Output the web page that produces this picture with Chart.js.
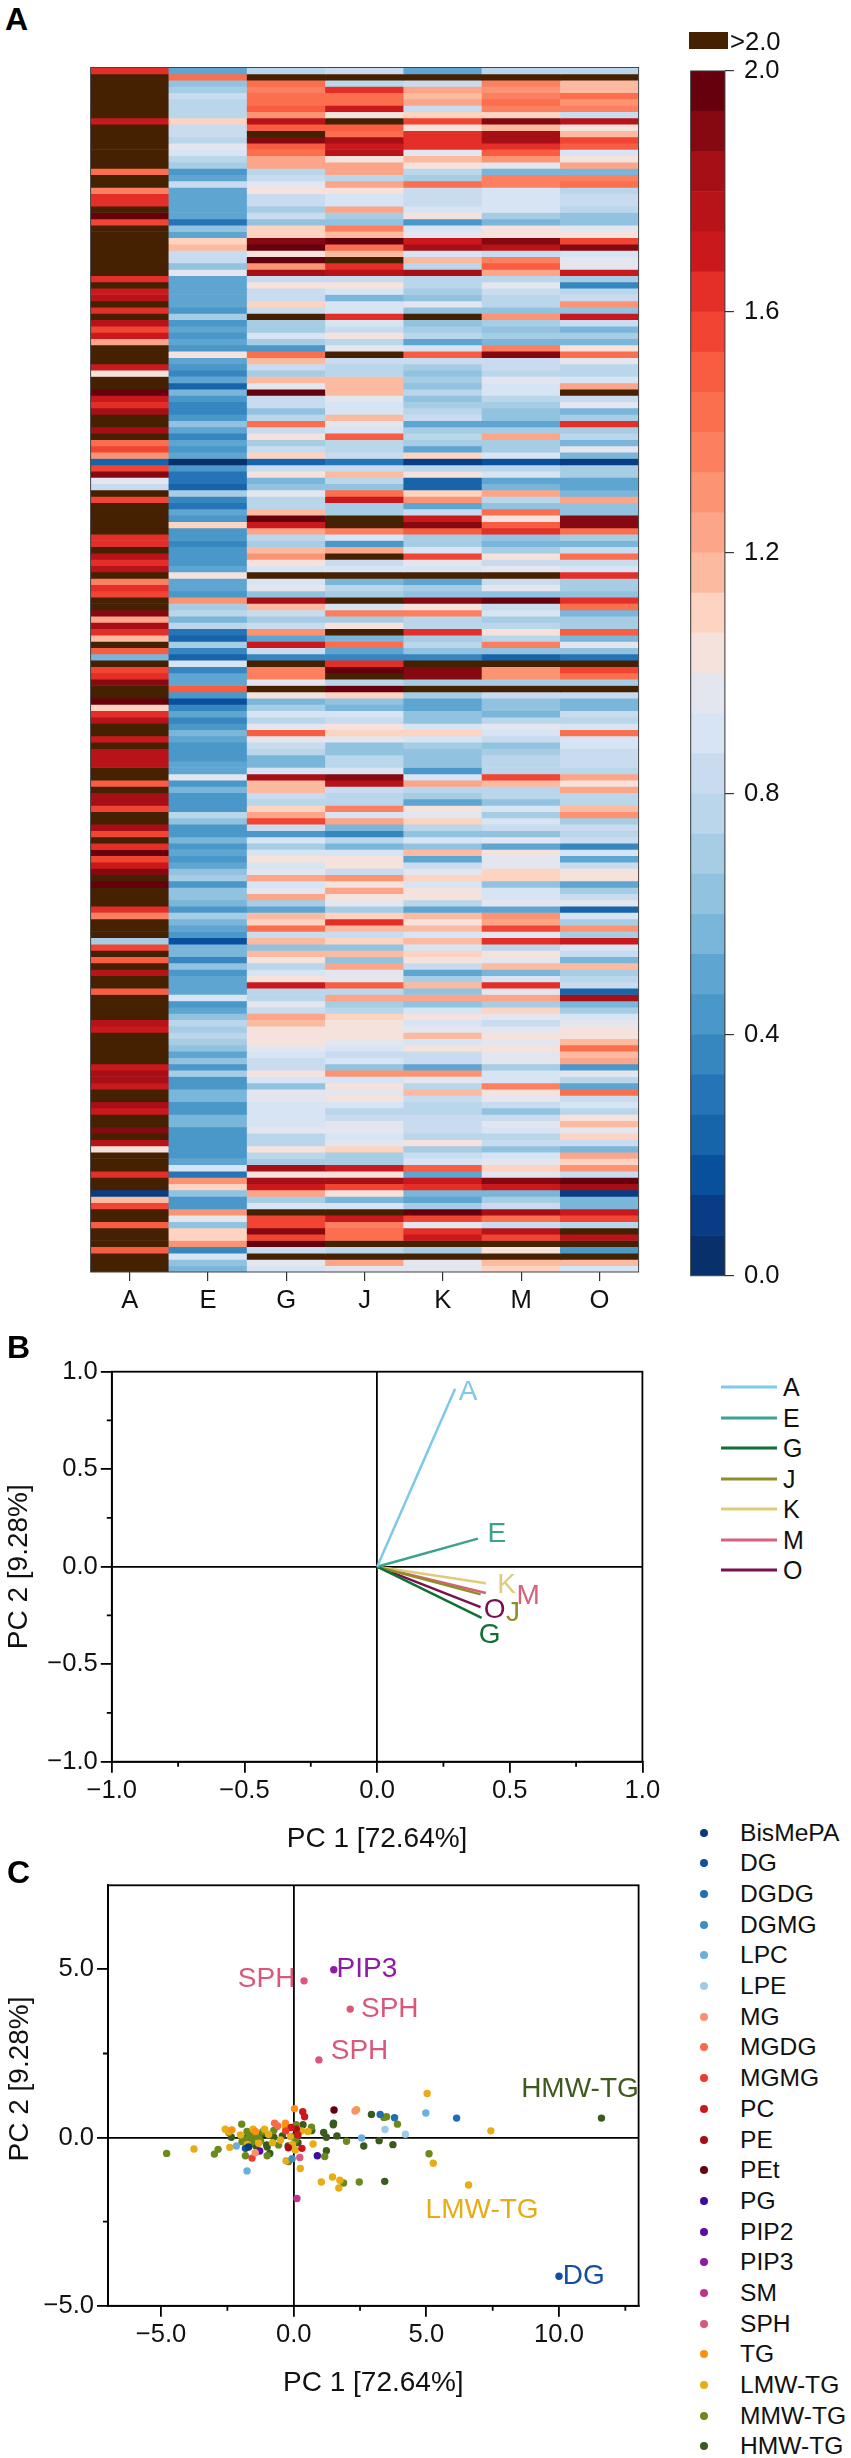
<!DOCTYPE html>
<html>
<head>
<meta charset="utf-8">
<title>Lipid heatmap and PCA</title>
<script src="https://cdn.jsdelivr.net/npm/chart.js@4"></script>
<style>
  html, body { margin: 0; padding: 0; background: #fff; }
  body { position: relative; width: 851px; height: 2458px; overflow: hidden; font-family: "Liberation Sans", Arial, sans-serif; color: #111; }
  canvas { position: absolute; }
  .txt { position: absolute; white-space: nowrap; transform: translateY(-50%); line-height: 1; }
  .panel { font-weight: bold; font-size: 32px; color: #000; }
  .key-line { position: absolute; height: 3px; transform: translateY(-50%); }
  .key-dot { position: absolute; width: 8px; height: 8px; border-radius: 50%; transform: translate(-50%, -50%); }
</style>
</head>
<body>
<canvas id="heat" style="left:0;top:50px" width="680" height="1270"></canvas>
<canvas id="colorbar" style="left:660px;top:40px" width="191" height="1270"></canvas>
<canvas id="loadings" style="left:0;top:1330px" width="700" height="540"></canvas>
<canvas id="scores" style="left:0;top:1850px" width="700" height="560"></canvas>

<script>
// ─── Heatmap data ────────────────────────────────────────
// band index per row: 0 = bottom band, 29 = top band, 30 = ">2.0"
const heatCategories = ['A', 'E', 'G', 'J', 'K', 'M', 'O'];
const colA = [
  24,30,30,30,30,30,30,30,25,30, 30,30,30,30,30,30,21,30,30,20, 24,24,30,29,23,30,30,30,30,30,
  30,30,30,24,30,25,26,30,24,30, 26,23,25,18,30,30,30,25,15,30, 30,29,25,24,27,30,30,27,30,21,
  23,19,3,23,28,14,12,30,23,30, 30,30,30,30,24,24,30,26,24,26, 30,20,24,23,30,30,28,18,27,24,
  17,30,22,8,30,23,24,28,30,30, 29,16,24,26,30,30,25,30,26,26, 26,30,30,22,30,27,27,23,30,30,
  27,23,30,24,29,23,25,28,30,29, 30,30,30,24,20,30,30,30,10,23, 30,22,30,26,30,30,22,30,30,30,
  30,26,25,30,30,30,30,30,25,27, 27,25,30,30,27,25,30,30,28,30, 26,15,30,30,30,24,30,30,1,17,
  23,30,30,22,30,30,30,22,30,30,30];
const colE = [
  7,21,9,10,12,11,11,11,16,12, 12,11,14,13,11,10,6,7,12,7, 7,7,7,7,4,9,7,16,17,12,
  12,9,14,7,7,7,7,7,6,10, 6,7,6,7,6,15,7,6,5,7, 3,8,6,5,5,6,9,7,5,7,
  6,7,0,6,4,4,3,10,5,4, 7,6,16,6,6,5,6,6,6,7, 15,7,7,6,19,10,11,8,11,4,
  3,10,5,3,13,5,7,7,22,6, 2,5,7,5,6,8,7,6,6,6, 7,7,14,6,8,6,6,6,11,9,
  6,6,8,6,7,6,7,9,10,6, 9,9,8,6,10,8,7,6,2,8, 8,5,9,6,7,7,7,13,6,7,
  9,11,10,11,10,9,7,9,6,10, 6,6,8,8,6,6,8,8,6,6, 6,6,6,7,13,4,19,16,9,6,
  6,19,14,9,16,16,19,5,13,9,8];
const colG = [
  11,30,21,20,21,21,22,19,26,22, 30,28,22,21,18,18,11,12,14,15, 12,12,10,12,9,16,16,28,29,15,
  29,19,27,12,15,12,12,16,12,30, 10,10,13,10,6,21,17,12,10,17, 14,29,12,12,9,11,21,12,15,10,
  12,16,3,12,15,8,9,14,11,11, 17,29,25,18,11,10,17,19,15,13, 30,13,14,9,27,17,12,10,12,19,
  7,25,12,5,30,20,20,14,30,15, 8,10,13,11,14,22,14,12,11,8, 8,13,27,17,17,12,11,16,18,23,
  12,6,13,10,13,15,13,14,18,13, 14,18,10,7,17,16,21,12,17,9, 17,15,11,13,15,25,11,11,14,12,
  18,17,15,15,15,14,13,12,12,15, 13,9,14,14,13,13,13,13,14,11, 11,15,11,10,27,15,27,25,18,10,
  13,30,23,23,28,23,29,12,30,14,13];
const colJ = [
  12,30,11,24,21,21,25,15,30,22, 21,27,25,26,15,18,18,11,18,15, 13,13,18,10,9,20,17,29,21,17,
  30,24,26,12,15,13,8,13,13,24, 13,12,15,11,14,30,12,11,11,17, 17,17,14,13,13,17,14,13,22,11,
  11,12,4,12,17,11,9,21,25,10, 10,30,30,20,13,6,18,30,12,13, 30,8,11,10,30,13,20,10,15,30,
  8,21,7,5,24,29,30,11,29,16, 9,8,13,12,15,16,14,9,9,11, 11,13,28,26,12,11,11,20,13,18,
  8,5,11,8,13,15,15,12,19,15, 18,15,14,10,16,24,17,12,16,9, 17,9,18,14,14,22,11,18,10,11,
  16,15,15,15,14,13,12,13,9,19, 13,15,14,15,13,11,12,14,14,13, 14,16,10,10,25,15,27,23,15,8,
  13,30,25,20,21,21,30,11,30,18,14];
const colK = [
  7,30,12,18,17,18,12,16,23,15, 24,24,24,14,17,15,11,10,21,12, 12,12,13,15,6,13,14,25,27,13,
  17,11,27,11,11,10,9,14,9,30, 9,10,11,7,13,22,12,10,9,10, 9,11,9,10,11,12,7,10,11,10,
  7,16,1,11,15,3,3,16,19,7, 12,25,28,22,10,10,13,23,14,13, 30,7,10,9,28,15,20,11,11,24,
  10,11,9,5,30,28,28,10,30,10, 7,7,9,9,13,16,13,10,9,9, 9,6,13,18,11,10,7,15,14,16,
  11,9,13,9,17,7,12,14,16,13, 15,15,11,7,17,15,17,13,17,13, 16,15,12,7,10,17,9,18,9,13,
  15,13,14,17,13,15,12,12,7,19, 14,11,17,12,11,11,12,12,12,11, 15,10,12,13,22,7,25,24,8,7,
  10,29,23,14,24,25,30,10,30,14,14];
const colM = [
  11,30,20,19,20,21,20,16,28,17, 27,27,24,22,19,14,8,20,20,13, 13,13,13,10,8,15,15,28,26,12,
  20,22,18,11,14,12,11,11,9,19, 10,9,10,8,20,28,12,12,11,14, 13,13,11,10,9,9,7,10,18,10,
  10,13,2,11,13,7,8,18,11,9, 21,15,22,24,9,8,10,15,12,14, 30,12,14,9,29,12,13,10,11,15,
  11,20,9,3,30,19,19,10,30,12, 9,9,8,11,14,13,12,9,10,11, 11,11,23,17,11,11,9,13,10,13,
  12,9,14,7,15,14,14,16,16,9, 13,13,14,7,19,18,23,14,24,11, 15,14,17,8,13,24,14,18,10,16,
  14,12,14,15,14,15,14,14,10,13, 13,20,15,14,12,9,12,14,13,11, 12,9,13,14,16,14,28,25,8,10,
  12,27,21,12,26,23,30,15,30,17,16];
const colO = [
  11,30,17,17,21,19,20,12,26,15, 17,23,22,13,15,18,8,20,21,11, 12,12,11,9,9,14,15,23,28,13,
  14,14,25,10,5,11,12,19,9,25, 12,8,10,8,15,21,14,11,11,13, 18,30,12,14,8,10,24,10,11,8,
  14,8,1,10,10,7,7,8,18,9, 9,28,28,21,10,8,12,21,12,13, 24,10,10,9,24,21,8,10,10,22,
  8,14,9,4,30,23,21,10,30,12, 8,8,12,11,13,21,13,13,12,12, 12,11,18,15,18,11,11,17,19,10,
  12,11,12,5,13,7,12,15,15,7, 10,12,14,3,13,10,19,10,25,13, 12,8,17,10,11,12,3,27,8,10,
  13,14,15,15,17,21,17,18,6,14, 11,7,21,12,13,11,15,17,14,16, 12,8,18,16,19,12,29,27,1,8,
  8,25,23,11,30,26,30,6,30,17,13];
const bandColors = [
  '#08306b','#083c85','#08509b','#1764ab','#2574b7','#3686c0','#4a97c9','#5ea5d1','#7ab6d9','#91c3e0',
  '#a6cde4','#bad6eb','#c9dcef','#d6e4f3','#e3e6ee','#f5e2dc','#fdd4c2','#fcbba1','#fca588','#fc9474',
  '#fc8060','#fb6e4e','#f85d42','#f14432','#e32f27','#cb181d','#b71319','#a50f15','#860811','#67000d',
  '#462101'
];
const colorbarTicks = [0, 0.4, 0.8, 1.2, 1.6, 2.0];

// ─── PCA loadings ────────────────────────────────────────
const loadingNames  = ['A', 'E', 'G', 'J', 'K', 'M', 'O'];
const loadingX      = [0.294, 0.38, 0.394, 0.39, 0.41, 0.41, 0.39];
const loadingY      = [0.913, 0.144, -0.262, -0.142, -0.085, -0.135, -0.207];
const loadingColors = ['#7ec8e8', '#3aa38f', '#0f7033', '#8f8f2a', '#e0cc78', '#d9607a', '#7a1050'];
const loadingLabelX = [0.343, 0.451, 0.424, 0.512, 0.488, 0.569, 0.443];
const loadingLabelY = [0.896, 0.164, -0.352, -0.238, -0.096, -0.15, -0.224];
const loadingTicks  = [-1, -0.5, 0, 0.5, 1];
const loadingMinor  = [-0.75, -0.25, 0.25, 0.75];

// ─── PCA scores, [pc1, pc2] per lipid ────────────────────
const lipidClasses = ['BisMePA','DG','DGDG','DGMG','LPC','LPE','MG','MGDG','MGMG','PC','PE','PEt','PG','PIP2','PIP3','SM','SPH','TG','LMW-TG','MMW-TG','HMW-TG'];
const lipidColors  = ['#0b3b7a','#10509e','#1f6fb6','#3f8fc4','#6bb0dc','#a0cbe6','#fb9070','#fb6a4a','#ef3b2c','#cb181d','#a50f15','#67000d','#3a0ca3','#5a0ca8','#8e1aa5','#c0338f','#d9587a','#fb9012','#e8ad15','#6b8a1a','#3b5a1e'];
const bismepa = [[-1.7, -0.28]];
const dg    = [[10.0, -4.12], [-1.82, -0.32]];
const dgdg  = [[3.8, 0.59], [3.26, 0.69], [6.14, 0.58]];
const dgmg  = [[-0.06, -0.63]];
const lpc   = [[4.98, 0.73], [2.56, -0.01], [-1.76, -0.99], [-2.16, -0.25]];
const lpe   = [[3.44, 0.24], [4.21, 0.1]];
const mg    = [[2.31, 0.79], [-1.45, -0.45]];
const mgdg  = [[-0.72, 0.43], [-0.6, 0.35]];
const mgmg  = [[-1.57, -0.61], [-0.3, 0.2]];
const pc    = [[0.34, 0.77], [0.41, 0.62], [0.31, -0.32], [0.16, 0.08], [-0.1, 0.3]];
const pe    = [[-0.2, -0.3], [0.1, 0.25]];
const pet   = [[1.52, 0.82]];
const pg    = [[0.89, -0.54]];
const pip2  = [[-1.28, -0.4]];
const pip3  = [[1.51, 4.99]];
const sm    = [[0.12, -1.81]];
const sph   = [[0.39, 4.66], [2.13, 3.82], [0.95, 2.31], [0.23, -0.59]];
const tg    = [[0.03, 0.86], [-2.33, 0.23], [-0.31, 0.43], [-1.44, 0.18]];
const lmwTg = [[5.03, 1.31], [7.43, 0.2], [2.37, 0.83], [6.59, -1.41], [5.26, -0.76], [1.46, -1.17], [1.74, -1.27], [1.04, -1.32],
  [1.7, -1.5], [0.25, -0.92], [-3.76, -0.34], [0.73, -0.19], [-2.41, -0.29], [-2.58, 0.25], [-2.45, 0.18], [-0.29, -0.69],
  [-2.01, 0.08], [-1.53, 0.25], [0.54, 0.18], [-0.13, 0.03], [-0.5, -0.07], [-1.32, -0.17], [-1.75, -0.2], [0.06, -0.37],
  [-0.95, 0.1], [-0.31, 0.3], [-0.8, -0.15], [-0.05, -0.2], [-1.1, 0.25], [0.3, 0.2]];
const mmwTg = [[-4.79, -0.47], [-2.99, -0.49], [-2.85, -0.35], [5.1, -0.48], [2.47, -1.32], [1.88, -1.35], [1.17, -0.56], [-0.19, -0.71],
  [3.91, 0.4], [3.4, 0.6], [3.5, 0.62], [1.99, -0.11], [-1.82, -0.54], [-1.96, 0.4], [-2.45, 0.15], [-1.76, 0.18], [-1.88, -0.07],
  [-1.7, -0.02], [-1.57, -0.12], [-1.44, 0.03], [-1.95, -0.12], [-1.32, 0], [-1.16, 0.18], [-0.94, 0.08], [-0.63, 0.33], [-0.75, 0.21],
  [-0.57, -0.22], [-1.0, -0.54], [0.09, 0.38], [0.06, -0.07], [0.67, 0.31], [-0.25, 0.31], [-1.6, 0.1], [-1.25, -0.1]];
const hmwTg = [[11.6, 0.58], [3.43, -1.3], [2.93, 0.69], [1.5, 0.43], [1.49, 0.38], [3.22, -0.09], [3.74, -0.21], [2.64, -0.25],
  [1.63, 0.05], [1.23, -0.39], [1.13, 0.15], [1.23, 0.01], [0.35, 0.38], [0.68, 0.21], [-0.9, -0.47], [-1.02, -0.22], [-1.43, -0.24],
  [-2.35, 0.01], [-1.73, 0.03], [-1.18, 0.11], [-0.75, 0.01], [-0.43, 0.05], [-0.21, -0.25], [0.02, 0.05], [0.16, -0.15], [-1.0, -0.28]];
const scoreSeries = [bismepa, dg, dgdg, dgmg, lpc, lpe, mg, mgdg, mgmg, pc, pe, pet, pg, pip2, pip3, sm, sph, tg, lmwTg, mmwTg, hmwTg];
const scoreLabelText   = ['SPH', 'PIP3', 'SPH', 'SPH', 'HMW-TG', 'LMW-TG', 'DG'];
const scoreLabelX      = [-1.02, 2.76, 3.62, 2.48, 10.79, 7.1, 10.93];
const scoreLabelY      = [4.72, 4.99, 3.81, 2.57, 1.45, -2.16, -4.12];
const scoreLabelColors = ['#d9587a', '#8e1aa5', '#d9587a', '#d9587a', '#3f5a1f', '#e8ad15', '#134f9e'];
const scoreTicksX = [-5, 0, 5, 10];
const scoreTicksY = [-5, 0, 5];
const scoreMinorX = [-2.5, 2.5, 7.5, 12.5];
const scoreMinorY = [-2.5, 2.5];

// ─── Shared bits ─────────────────────────────────────────
Chart.defaults.font.family = '"Liberation Sans", Arial, sans-serif';
Chart.defaults.color = '#111';
Chart.defaults.animation = false;
Chart.defaults.responsive = false;
Chart.defaults.plugins.legend.display = false;
Chart.defaults.plugins.tooltip.enabled = false;

const AXIS_W = 1.8;
const fmt = v => v.toFixed(1).replace('-', '\u2212');
const zeroGrid = c => (c.tick && c.tick.value === 0 ? '#000' : 'rgba(0,0,0,0)');

// closes the plot box and adds short minor ticks
const framePlugin = {
  id: 'frame',
  afterDraw(chart, args, opts) {
    const { ctx, chartArea: a, scales } = chart;
    ctx.save();
    ctx.strokeStyle = opts.color || '#000';
    ctx.lineWidth = opts.width || AXIS_W;
    ctx.strokeRect(a.left, a.top, a.right - a.left, a.bottom - a.top);
    ctx.beginPath();
    (opts.minorX || []).forEach(v => {
      const x = scales.x.getPixelForValue(v);
      ctx.moveTo(x, a.bottom); ctx.lineTo(x, a.bottom + 5);
    });
    (opts.minorY || []).forEach(v => {
      const y = scales.y.getPixelForValue(v);
      ctx.moveTo(a.left, y); ctx.lineTo(a.left - 5, y);
    });
    ctx.stroke();
    ctx.restore();
  }
};

// text labels placed in data coordinates
const textPlugin = {
  id: 'textLabels',
  afterDatasetsDraw(chart, args, opts) {
    const { ctx, scales } = chart;
    ctx.save();
    ctx.font = opts.font;
    ctx.textAlign = 'center';
    ctx.textBaseline = 'middle';
    opts.text.forEach((t, i) => {
      ctx.fillStyle = opts.colors[i];
      ctx.fillText(t, scales.x.getPixelForValue(opts.x[i]), scales.y.getPixelForValue(opts.y[i]));
    });
    ctx.restore();
  }
};

function addText(text, left, top, size, cls) {
  const d = document.createElement('div');
  d.className = 'txt ' + (cls || '');
  d.textContent = text;
  d.style.left = left + 'px';
  d.style.top = top + 'px';
  if (size) d.style.fontSize = size + 'px';
  document.body.appendChild(d);
  return d;
}

// ─── Heatmap ─────────────────────────────────────────────
const heatCols = [colA, colE, colG, colJ, colK, colM, colO];
new Chart(document.getElementById('heat'), {
  type: 'bar',
  data: {
    labels: heatCategories,
    datasets: colA.map((_, r) => ({
      data: heatCols.map(() => 1),
      backgroundColor: heatCols.map(col => bandColors[col[r]]),
      barPercentage: 1, categoryPercentage: 1, borderWidth: 0
    }))
  },
  options: {
    layout: { padding: { left: 90.6, right: 41.4, top: 17.5, bottom: 0 } },
    plugins: { frame: { color: '#444', width: 1 } },
    scales: {
      x: {
        stacked: true,
        grid: { offset: false, drawOnChartArea: false, tickLength: 9, tickColor: '#333', lineWidth: 1.2 },
        border: { display: false },
        ticks: { font: { size: 25.6 }, padding: 5, color: '#111', maxRotation: 0 },
        afterFit: s => { s.height = 48; }
      },
      y: { stacked: true, reverse: true, min: 0, max: colA.length, display: false }
    }
  },
  plugins: [framePlugin]
});

// ─── Colour bar ──────────────────────────────────────────
new Chart(document.getElementById('colorbar'), {
  type: 'bar',
  data: {
    labels: [''],
    datasets: bandColors.slice(0, 30).map(c => ({
      data: [2 / 30], backgroundColor: c, barPercentage: 1, categoryPercentage: 1, borderWidth: 0
    }))
  },
  options: {
    layout: { padding: { left: 30.7, right: 0, top: 31, bottom: 34.3 } },
    plugins: { frame: { color: '#333', width: 1 } },
    scales: {
      x: { stacked: true, display: false },
      y: {
        stacked: true, position: 'right', min: 0, max: 2,
        afterBuildTicks: s => { s.ticks = colorbarTicks.map(value => ({ value })); },
        grid: { drawOnChartArea: false, tickLength: 9, tickColor: '#333', lineWidth: 1.2 },
        border: { display: false },
        ticks: { font: { size: 25.6 }, padding: 10, color: '#111', callback: fmt },
        afterFit: s => { s.width = 126.1; }
      }
    }
  },
  plugins: [framePlugin]
});

addText('>2.0', 730, 42, 25.6);
const overKey = document.createElement('div');
overKey.style.cssText = `position:absolute;left:689px;top:32px;width:39px;height:17px;background:${bandColors[30]}`;
document.body.appendChild(overKey);

// ─── Loadings plot ───────────────────────────────────────
function pcaScale(min, max, tickValues, extra) {
  return Object.assign({
    type: 'linear', min, max,
    afterBuildTicks: s => { s.ticks = tickValues.map(value => ({ value })); },
    grid: { color: zeroGrid, lineWidth: AXIS_W, tickColor: '#000', tickLength: 11, drawTicks: true },
    border: { display: true, color: '#000', width: AXIS_W },
    ticks: { font: { size: 25.6 }, color: '#111', callback: fmt, maxRotation: 0, autoSkip: false }
  }, extra);
}

new Chart(document.getElementById('loadings'), {
  type: 'scatter',
  data: {
    datasets: loadingNames.map((n, i) => ({
      label: n,
      data: [{ x: 0, y: 0 }, { x: loadingX[i], y: loadingY[i] }],
      showLine: true, borderColor: loadingColors[i], borderWidth: 2.5, pointRadius: 0
    }))
  },
  options: {
    layout: { padding: { left: 2.2, right: 57.6, top: 41.7, bottom: 14.3 } },
    plugins: {
      frame: { minorX: loadingMinor, minorY: loadingMinor },
      textLabels: { text: loadingNames, x: loadingLabelX, y: loadingLabelY, colors: loadingColors, font: '28px "Liberation Sans"' }
    },
    scales: {
      x: pcaScale(-1, 1, loadingTicks, {
        title: { display: true, text: 'PC 1 [72.64%]', font: { size: 28 }, color: '#111', padding: 0 },
        afterFit: s => { s.height = 94; }
      }),
      y: pcaScale(-1, 1, loadingTicks, {
        title: { display: true, text: 'PC 2 [9.28%]', font: { size: 28 }, color: '#111', padding: 0 },
        afterFit: s => { s.width = 109.6; }
      })
    }
  },
  plugins: [framePlugin, textPlugin]
});

loadingNames.forEach((n, i) => {
  const y = 1387 + i * 30.55;
  const line = document.createElement('div');
  line.className = 'key-line';
  line.style.cssText = `left:720.6px;top:${y}px;width:56.4px;background:${loadingColors[i]}`;
  document.body.appendChild(line);
  addText(n, 783, y, 25);
});

// ─── Scores plot ─────────────────────────────────────────
new Chart(document.getElementById('scores'), {
  type: 'scatter',
  data: {
    datasets: scoreSeries.map((pts, i) => ({
      label: lipidClasses[i],
      data: pts.map(p => ({ x: p[0], y: p[1] })),
      backgroundColor: lipidColors[i], borderWidth: 0, pointRadius: 3.7
    }))
  },
  options: {
    layout: { padding: { left: 2, right: 61.4, top: 35.3, bottom: 10.2 } },
    plugins: {
      frame: { minorX: scoreMinorX, minorY: scoreMinorY },
      textLabels: { text: scoreLabelText, x: scoreLabelX, y: scoreLabelY, colors: scoreLabelColors, font: '28px "Liberation Sans"' }
    },
    scales: {
      x: pcaScale(-7, 13, scoreTicksX, {
        title: { display: true, text: 'PC 1 [72.64%]', font: { size: 28 }, color: '#111', padding: 0 },
        afterFit: s => { s.height = 94; }
      }),
      y: pcaScale(-5, 7.5, scoreTicksY, {
        afterFit: s => { s.width = 106; }
      })
    }
  },
  plugins: [framePlugin, textPlugin]
});

const scoreYTitle = addText('PC 2 [9.28%]', 19, 2079, 28);
scoreYTitle.style.transform = 'translate(-50%, -50%) rotate(-90deg)';

lipidClasses.forEach((n, i) => {
  const y = 1832.7 + i * 30.68;
  const dot = document.createElement('div');
  dot.className = 'key-dot';
  dot.style.cssText = `left:704px;top:${y}px;background:${lipidColors[i]}`;
  document.body.appendChild(dot);
  addText(n, 740, y, 24.6);
});

addText('A', 5, 18.5, 0, 'panel');
addText('B', 7, 1347, 0, 'panel');
addText('C', 7, 1871.5, 0, 'panel');
</script>
</body>
</html>
